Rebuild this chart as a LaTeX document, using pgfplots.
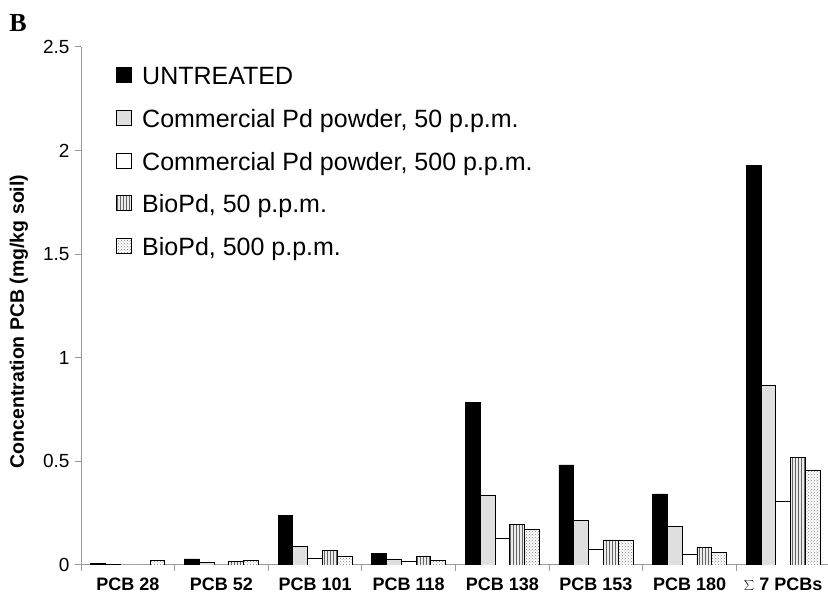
\documentclass[border=0pt]{standalone}
\usepackage{pgfplots}
\pgfplotsset{compat=1.18}
\usepackage{pgfplotstable}
\usetikzlibrary{patterns}
\usepackage{fontspec}
\setmainfont{Liberation Sans}
\newfontfamily\serifb{Liberation Serif}
\pgfplotstableread{
x u c50 c500 b50 b500
0 0.006 0.004 0 0 0.022
1 0.029 0.011 0 0.016 0.023
2 0.240 0.088 0.034 0.069 0.043
3 0.056 0.029 0.019 0.040 0.023
4 0.783 0.335 0.126 0.196 0.174
5 0.483 0.216 0.076 0.121 0.121
6 0.343 0.188 0.053 0.085 0.063
7 1.930 0.865 0.309 0.518 0.457
}\data
\begin{document}
\begin{tikzpicture}[x=1pt,y=1pt]
\useasboundingbox (0,0) rectangle (828,599);
\node[anchor=center,font=\serifb\bfseries\fontsize{26}{28}\selectfont] at (18,576) {B};
\begin{axis}[
  at={(81pt,34pt)}, anchor=south west,
  scale only axis, width=749pt, height=518pt,
  ybar=0pt, bar width=0.158,
  xmin=-0.5, xmax=7.5, ymin=0, ymax=2.5,
  axis x line*=bottom, axis y line*=left,
  axis line style={draw=gray!80, line width=1pt},
  xtick={0,...,7},
  xticklabels={PCB 28,PCB 52,PCB 101,PCB 118,PCB 138,PCB 153,PCB 180,$\sum$ 7 PCBs},
  xticklabel style={font=\bfseries\fontsize{18}{20}\selectfont, yshift=-3pt},
  minor xtick={-0.5,0.5,...,7.5},
  major x tick style={draw=none},
  minor x tick style={draw=gray!80, line width=1pt},
  minor tick length=6pt,
  ytick={0,0.5,1,1.5,2,2.5},
  yticklabels={0,0.5,1,1.5,2,2.5},
  yticklabel style={font=\fontsize{19}{21}\selectfont, xshift=-2pt},
  y tick style={draw=gray!80, line width=1pt},
  major tick length=6pt,
  tick align=outside,
  /pgf/number format/assume math mode=true,
  ylabel={\bfseries Concentration PCB (mg/kg soil)},
  every axis y label/.style={at={(rel axis cs:0,0.47)}, xshift=-62pt, rotate=90, anchor=center, font=\fontsize{19.5}{22}\selectfont},
  legend style={at={(rel axis cs:0.047,0.962)}, anchor=north west, draw=none, fill=none,
    font=\fontsize{25}{30}\selectfont, row sep=18.6pt, inner sep=0pt,
    nodes={text height=18pt, text depth=6pt, inner sep=0pt},
    /tikz/every odd column/.append style={column sep=10pt}},
  legend cell align=left,
  legend image code/.code={\draw[#1, line width=0.8pt] (0pt,-4pt) rectangle (15pt,11pt);},
  every axis plot/.append style={draw=black, line width=0.8pt},
]
\addplot[fill=black] table[x=x,y=u]{\data};
\addplot[fill=gray!25] table[x=x,y=c50]{\data};
\addplot[fill=white] table[x=x,y=c500]{\data};
\addplot[fill=gray!15, postaction={pattern=vertical lines, pattern color=gray!80!black}] table[x=x,y=b50]{\data};
\addplot[fill=white, postaction={pattern=crosshatch dots, pattern color=gray}] table[x=x,y=b500]{\data};
\legend{UNTREATED, {Commercial Pd powder, 50 p.p.m.}, {Commercial Pd powder, 500 p.p.m.}, {BioPd, 50 p.p.m.}, {BioPd, 500 p.p.m.}}
\end{axis}
\end{tikzpicture}
\end{document}
